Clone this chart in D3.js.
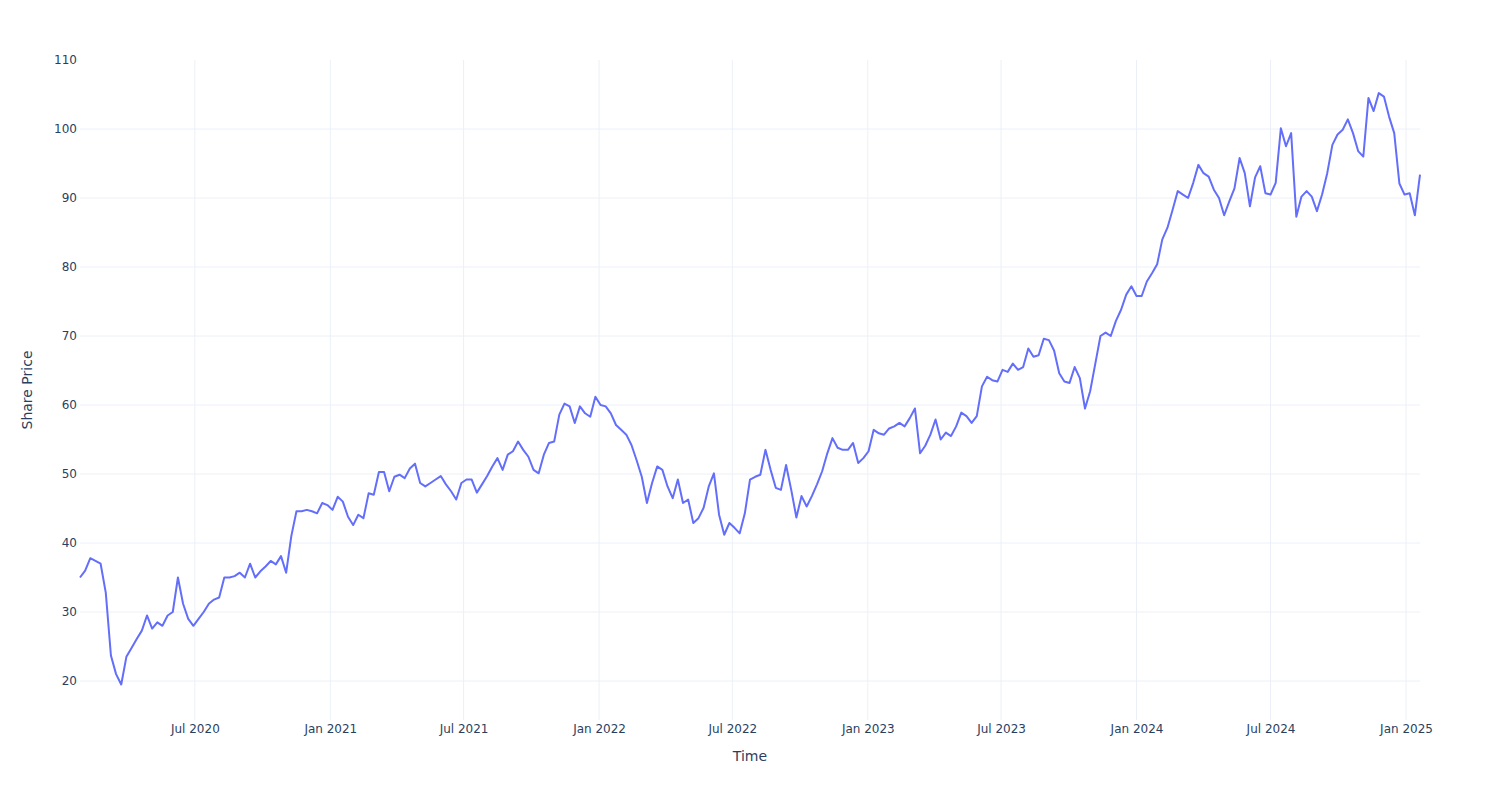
<!DOCTYPE html>
<html>
<head>
<meta charset="utf-8">
<script src="https://cdn.jsdelivr.net/npm/d3@7"></script>
<style>
  body { margin: 0; background: #fff; }
  text { font-family: "DejaVu Sans", Verdana, sans-serif; fill: #2a3f5f; }
</style>
</head>
<body>
<div id="chart"></div>
<script>
// weekly closes, first one on 27 Jan 2020
var startDate = new Date(2020, 0, 27);
var prices = [
  35.0, 36.0, 37.8, 37.4, 37.0, 32.8, 23.7, 21.0, 19.5, 23.5,
  24.8, 26.1, 27.3, 29.5, 27.6, 28.5, 28.0, 29.5, 30.0, 35.0,
  31.2, 29.0, 28.0, 29.0, 30.0, 31.2, 31.8, 32.1, 35.0, 35.0,
  35.2, 35.7, 35.0, 37.0, 35.0, 35.9, 36.6, 37.4, 36.9, 38.1,
  35.7, 41.0, 44.6, 44.6, 44.8, 44.6, 44.3, 45.8, 45.5, 44.8,
  46.7, 46.0, 43.8, 42.6, 44.1, 43.6, 47.2, 47.0, 50.3, 50.3,
  47.5, 49.6, 49.9, 49.4, 50.8, 51.5, 48.7, 48.2, 48.7, 49.2,
  49.7, 48.5, 47.5, 46.3, 48.7, 49.2, 49.2, 47.3, 48.5, 49.7,
  51.1, 52.3, 50.6, 52.8, 53.3, 54.7, 53.5, 52.5, 50.6, 50.1,
  52.8, 54.5, 54.7, 58.6, 60.2, 59.8, 57.4, 59.8, 58.8, 58.3,
  61.2, 60.0, 59.8, 58.8, 57.1, 56.4, 55.7, 54.2, 52.0, 49.6,
  45.8, 48.7, 51.1, 50.6, 48.2, 46.5, 49.2, 45.8, 46.3, 42.9,
  43.6, 45.1, 48.2, 50.1, 44.1, 41.2, 42.9, 42.2, 41.4, 44.3,
  49.2, 49.6, 49.9, 53.5, 50.6, 48.0, 47.7, 51.3, 47.7, 43.7,
  46.8, 45.3, 46.8, 48.5, 50.4, 53.0, 55.2, 53.8, 53.5, 53.5,
  54.5, 51.6, 52.3, 53.3, 56.4, 55.9, 55.7, 56.6, 56.9, 57.4,
  56.9, 58.1, 59.5, 53.0, 54.1, 55.7, 57.9, 55.0, 56.0, 55.5,
  56.9, 58.9, 58.4, 57.4, 58.4, 62.7, 64.1, 63.6, 63.4, 65.1,
  64.8, 66.0, 65.1, 65.5, 68.2, 67.0, 67.2, 69.6, 69.4, 67.9,
  64.6, 63.4, 63.2, 65.5, 63.9, 59.5, 62.0, 66.0, 70.0, 70.5,
  70.0, 72.2, 73.8, 76.0, 77.2, 75.8, 75.8, 77.9, 79.1, 80.4,
  84.0, 85.7, 88.3, 91.0, 90.5, 90.0, 92.2, 94.8, 93.6, 93.1,
  91.2, 90.0, 87.5, 89.5, 91.4, 95.8, 93.6, 88.8, 93.0, 94.6,
  90.7, 90.5, 92.2, 100.1, 97.5, 99.4, 87.3, 90.2, 91.0, 90.2,
  88.1, 90.5, 93.6, 97.7, 99.2, 99.9, 101.4, 99.4, 96.8, 96.0,
  104.5, 102.6, 105.2, 104.7, 101.8, 99.4, 92.1, 90.5, 90.7, 87.5,
  93.4
];
var yTicks = [20, 30, 40, 50, 60, 70, 80, 90, 100, 110];

var data = prices.map(function (p, i) {
  return { date: d3.timeDay.offset(startDate, 7 * i), price: p };
});

var W = 1500, H = 800;
var margin = {top: 60, right: 80, bottom: 80, left: 80};
var width = W - margin.left - margin.right,
    height = H - margin.top - margin.bottom;

var svg = d3.select("#chart").append("svg")
  .attr("width", W)
  .attr("height", H)
  .append("g")
  .attr("transform", "translate(" + margin.left + "," + margin.top + ")");

var x = d3.scaleTime()
  .domain(d3.extent(data, function (d) { return d.date; }))
  .range([0, width]);

var y = d3.scaleLinear()
  .domain([14.35, 110])
  .range([height, 0]);

var xTicks = x.ticks(d3.timeMonth.every(6)).filter(function (d) {
  return d > x.domain()[0];
});

// grid
svg.selectAll(".vgrid")
  .data(xTicks)
  .enter().append("line")
  .attr("class", "vgrid")
  .attr("x1", function (d) { return x(d); })
  .attr("x2", function (d) { return x(d); })
  .attr("y1", 0)
  .attr("y2", height)
  .attr("stroke", "#ebf0f8")
  .attr("stroke-width", 1);

svg.selectAll(".hgrid")
  .data(yTicks.filter(function (t) { return t < 110; }))
  .enter().append("line")
  .attr("class", "hgrid")
  .attr("x1", 0)
  .attr("x2", width)
  .attr("y1", function (d) { return y(d); })
  .attr("y2", function (d) { return y(d); })
  .attr("stroke", "#ebf0f8")
  .attr("stroke-width", 1);

// axes (labels only, plotly style)
var xAxis = d3.axisBottom(x)
  .tickValues(xTicks)
  .tickSize(0)
  .tickPadding(4)
  .tickFormat(d3.timeFormat("%b %Y"));

var gx = svg.append("g")
  .attr("transform", "translate(0," + height + ")")
  .call(xAxis);
gx.select(".domain").remove();
gx.selectAll("text").attr("font-size", 12).attr("fill", "#2a3f5f")
  .attr("font-family", "DejaVu Sans, Verdana, sans-serif");

var yAxis = d3.axisLeft(y)
  .tickValues(yTicks)
  .tickSize(0)
  .tickPadding(3)
  .tickFormat(d3.format("d"));

var gy = svg.append("g").call(yAxis);
gy.select(".domain").remove();
gy.selectAll("text").attr("font-size", 12).attr("fill", "#2a3f5f")
  .attr("font-family", "DejaVu Sans, Verdana, sans-serif");

// line
var line = d3.line()
  .x(function (d) { return x(d.date); })
  .y(function (d) { return y(d.price); });

svg.append("path")
  .datum(data)
  .attr("fill", "none")
  .attr("stroke", "#636efa")
  .attr("stroke-width", 2)
  .attr("stroke-linejoin", "round")
  .attr("d", line);

// titles
svg.append("text")
  .attr("x", width / 2)
  .attr("y", height + 41)
  .attr("text-anchor", "middle")
  .attr("font-size", 14)
  .text("Time");

svg.append("text")
  .attr("transform", "rotate(-90)")
  .attr("x", -height / 2)
  .attr("y", -48)
  .attr("text-anchor", "middle")
  .attr("font-size", 14)
  .text("Share Price");
</script>
</body>
</html>
